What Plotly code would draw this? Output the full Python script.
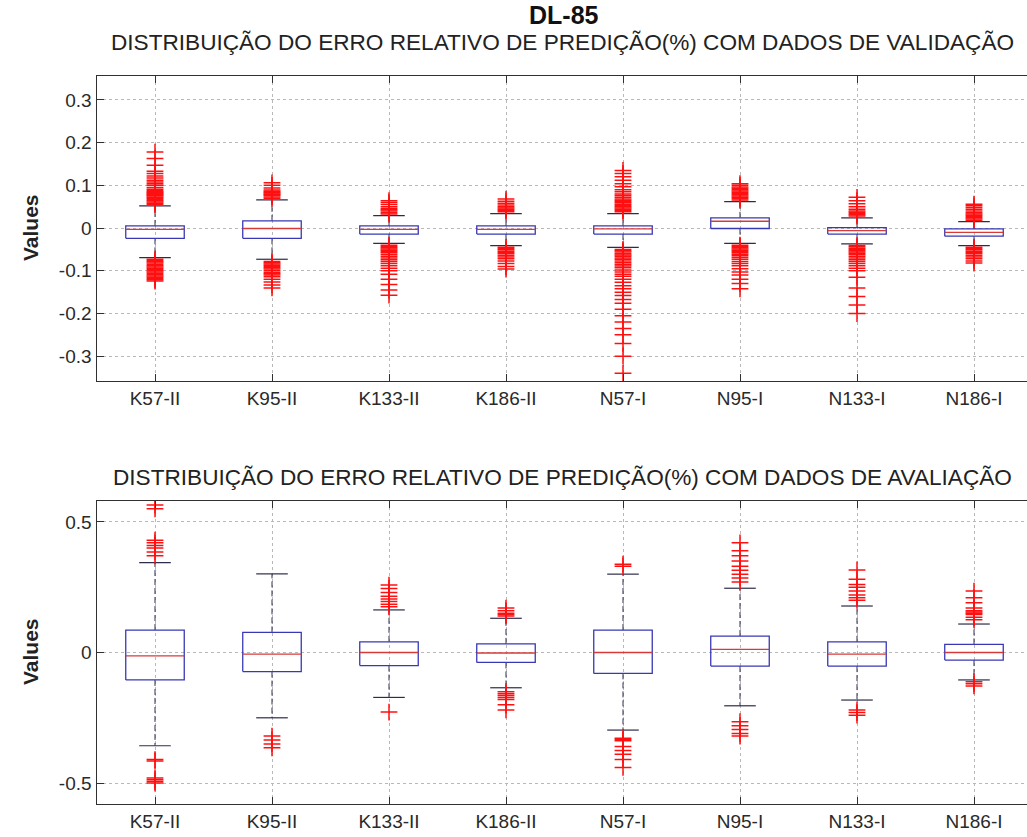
import plotly.graph_objects as go
from plotly.subplots import make_subplots

# Model labels (x axis)
categories = ["K57-II", "K95-II", "K133-II", "K186-II", "N57-I", "N95-I", "N133-I", "N186-I"]

# ---- Validation data: box statistics ----
val_q1 = [-0.024, -0.024, -0.014, -0.014, -0.014, -0.001, -0.014, -0.019]
val_median = [-0.003, -0.001, -0.003, -0.003, -0.002, 0.016, -0.006, -0.010]
val_q3 = [0.005, 0.017, 0.005, 0.005, 0.005, 0.024, 0.001, -0.002]
val_lower = [-0.069, -0.073, -0.036, -0.041, -0.045, -0.036, -0.037, -0.041]
val_upper = [0.052, 0.066, 0.029, 0.034, 0.034, 0.062, 0.024, 0.015]

# ---- Validation data: outliers ----
val_outliers = [
    [0.055, 0.058, 0.061, 0.064, 0.067, 0.070, 0.072, 0.075, 0.077, 0.079, 0.081, 0.083, 0.085,
     0.088, 0.091, 0.095, 0.100, 0.104, 0.108, 0.112, 0.117, 0.122, 0.128, 0.133, 0.147, 0.163, 0.178,
     -0.073, -0.076, -0.079, -0.082, -0.085, -0.088, -0.091, -0.094, -0.097, -0.100, -0.103, -0.106,
     -0.109, -0.112, -0.115, -0.118, -0.121, -0.124],
    [0.070, 0.073, 0.076, 0.078, 0.080, 0.082, 0.084, 0.086, 0.089, 0.094, 0.100, 0.106,
     -0.078, -0.081, -0.084, -0.087, -0.090, -0.093, -0.096, -0.100, -0.104, -0.107, -0.110, -0.114,
     -0.120, -0.126, -0.133, -0.140],
    [0.033, 0.036, 0.040, 0.043, 0.046, 0.050, 0.055, 0.060, 0.064,
     -0.040, -0.043, -0.046, -0.049, -0.052, -0.055, -0.058, -0.062, -0.066, -0.070, -0.074, -0.078,
     -0.083, -0.088, -0.094, -0.100, -0.108, -0.120, -0.132, -0.145, -0.157],
    [0.038, 0.041, 0.044, 0.047, 0.050, 0.054, 0.058, 0.063, 0.068,
     -0.045, -0.048, -0.051, -0.054, -0.057, -0.060, -0.064, -0.068, -0.072, -0.077, -0.083, -0.090, -0.096],
    [0.038, 0.041, 0.044, 0.047, 0.050, 0.053, 0.056, 0.059, 0.062, 0.065, 0.068, 0.072, 0.076, 0.080,
     0.085, 0.090, 0.097, 0.104, 0.112, 0.120, 0.128, 0.135,
     -0.050, -0.053, -0.056, -0.060, -0.063, -0.066, -0.070, -0.073, -0.077, -0.081, -0.085, -0.089,
     -0.093, -0.098, -0.103, -0.108, -0.113, -0.120, -0.127, -0.135, -0.142, -0.150, -0.158, -0.167,
     -0.176, -0.190, -0.205, -0.220, -0.235, -0.250, -0.270, -0.300, -0.340],
    [0.066, 0.069, 0.072, 0.075, 0.078, 0.081, 0.084, 0.087, 0.090, 0.093, 0.096, 0.100, 0.104,
     -0.040, -0.043, -0.046, -0.049, -0.052, -0.055, -0.058, -0.061, -0.065, -0.069, -0.073, -0.078,
     -0.083, -0.088, -0.095, -0.103, -0.110, -0.120, -0.130, -0.142],
    [0.028, 0.031, 0.034, 0.037, 0.040, 0.044, 0.050, 0.057, 0.064, 0.072,
     -0.041, -0.044, -0.047, -0.050, -0.053, -0.056, -0.059, -0.062, -0.066, -0.070, -0.074, -0.078,
     -0.083, -0.088, -0.094, -0.100, -0.115, -0.140, -0.160, -0.180, -0.200],
    [0.018, 0.021, 0.024, 0.027, 0.030, 0.033, 0.036, 0.040, 0.044, 0.048, 0.052, 0.056,
     -0.045, -0.048, -0.051, -0.054, -0.057, -0.060, -0.064, -0.068, -0.072, -0.077, -0.082],
]

# ---- Evaluation data: box statistics ----
ava_q1 = [-0.105, -0.073, -0.050, -0.038, -0.080, -0.052, -0.052, -0.029]
ava_median = [-0.013, -0.006, 0.000, -0.002, 0.000, 0.012, -0.006, 0.000]
ava_q3 = [0.086, 0.077, 0.041, 0.033, 0.086, 0.063, 0.041, 0.031]
ava_lower = [-0.357, -0.250, -0.172, -0.135, -0.297, -0.204, -0.182, -0.105]
ava_upper = [0.344, 0.301, 0.163, 0.131, 0.300, 0.246, 0.178, 0.109]

# ---- Evaluation data: outliers ----
ava_outliers = [
    [0.370, 0.385, 0.400, 0.410, 0.420, 0.430, 0.550, 0.565,
     -0.410, -0.415, -0.480, -0.487, -0.494, -0.500],
    [-0.320, -0.335, -0.350, -0.365],
    [0.175, 0.185, 0.195, 0.205, 0.215, 0.230, 0.245, 0.258, -0.228],
    [0.140, 0.145, 0.150, 0.160, 0.170,
     -0.150, -0.158, -0.165, -0.172, -0.180, -0.200, -0.220],
    [0.330, 0.338,
     -0.328, -0.333, -0.338, -0.360, -0.375, -0.390, -0.410, -0.440],
    [0.270, 0.285, 0.300, 0.315, 0.330, 0.350, 0.370, 0.390, 0.420,
     -0.265, -0.280, -0.295, -0.310, -0.320],
    [0.200, 0.210, 0.220, 0.235, 0.250, 0.260, 0.280, 0.316,
     -0.220, -0.230, -0.240],
    [0.125, 0.135, 0.145, 0.150, 0.155, 0.160, 0.170, 0.190, 0.210, 0.235,
     -0.112, -0.120, -0.128],
]

# Tick labels
val_tickvals = [-0.3, -0.2, -0.1, 0, 0.1, 0.2, 0.3]
val_ticktext = ["-0.3", "-0.2", "-0.1", "0", "0.1", "0.2", "0.3"]
ava_tickvals = [-0.5, 0, 0.5]
ava_ticktext = ["-0.5", "0", "0.5"]

main_title = "DL-85"
val_title = "DISTRIBUIÇÃO DO ERRO RELATIVO DE PREDIÇÃO(%) COM DADOS DE VALIDAÇÃO"
ava_title = "DISTRIBUIÇÃO DO ERRO RELATIVO DE PREDIÇÃO(%) COM DADOS DE AVALIAÇÃO"
y_label = "Values"

BOX_HALF = 0.25
CAP_HALF = 0.135
BOX_COLOR = "#3838b4"
MEDIAN_COLOR = "#d83a3a"
WHISKER_COLOR = "#2c2c4c"
OUTLIER_COLOR = "#ff1010"
FONT = "Liberation Sans, Arial, sans-serif"

fig = make_subplots(rows=2, cols=1)


def add_boxplot(row, q1, med, q3, lo, hi, outliers):
    pos = list(range(1, len(categories) + 1))
    bx, by, mx, my, wx, wy, cx, cy = [], [], [], [], [], [], [], []
    for p, a, m, b, l, h in zip(pos, q1, med, q3, lo, hi):
        bx += [p - BOX_HALF, p + BOX_HALF, p + BOX_HALF, p - BOX_HALF, p - BOX_HALF, None]
        by += [a, a, b, b, a, None]
        mx += [p - BOX_HALF, p + BOX_HALF, None]
        my += [m, m, None]
        wx += [p, p, None, p, p, None]
        wy += [b, h, None, a, l, None]
        cx += [p - CAP_HALF, p + CAP_HALF, None, p - CAP_HALF, p + CAP_HALF, None]
        cy += [h, h, None, l, l, None]
    ox, oy = [], []
    for p, vals in zip(pos, outliers):
        ox += [p] * len(vals)
        oy += vals
    fig.add_trace(go.Scatter(x=wx, y=wy, mode="lines", line=dict(color=WHISKER_COLOR, width=1, dash="6px,3px"),
                             hoverinfo="skip", showlegend=False), row=row, col=1)
    fig.add_trace(go.Scatter(x=cx, y=cy, mode="lines", line=dict(color=WHISKER_COLOR, width=1.2),
                             hoverinfo="skip", showlegend=False), row=row, col=1)
    fig.add_trace(go.Scatter(x=ox, y=oy, mode="markers",
                             marker=dict(symbol="cross-thin", size=12, line=dict(color=OUTLIER_COLOR, width=1.5)),
                             showlegend=False), row=row, col=1)
    fig.add_trace(go.Scatter(x=bx, y=by, mode="lines", line=dict(color=BOX_COLOR, width=1.3),
                             hoverinfo="skip", showlegend=False), row=row, col=1)
    fig.add_trace(go.Scatter(x=mx, y=my, mode="lines", line=dict(color=MEDIAN_COLOR, width=1.3),
                             hoverinfo="skip", showlegend=False), row=row, col=1)


add_boxplot(1, val_q1, val_median, val_q3, val_lower, val_upper, val_outliers)
add_boxplot(2, ava_q1, ava_median, ava_q3, ava_lower, ava_upper, ava_outliers)

W, H = 1027, 837
x_left = 96.5 / W

axis_common = dict(
    showline=True, linecolor="#303030", linewidth=1.2,
    showgrid=True, gridcolor="#b8b8b8", gridwidth=1, griddash="dot",
    ticks="inside", ticklen=7, tickcolor="#303030",
    zeroline=False,
    tickfont=dict(family=FONT, size=19, color="#2a2a2a"),
)

for r in (1, 2):
    fig.update_xaxes(axis_common, row=r, col=1)
    fig.update_xaxes(range=[0.5, 8.453], tickmode="array",
                     tickvals=list(range(1, len(categories) + 1)), ticktext=categories,
                     mirror="allticks", domain=[x_left, 1.0], row=r, col=1)
    fig.update_yaxes(axis_common, row=r, col=1)

fig.update_yaxes(range=[-0.358, 0.356], tickmode="array", tickvals=val_tickvals, ticktext=val_ticktext,
                 domain=[1 - 381 / H, 1 - 76 / H], mirror=False, row=1, col=1)
fig.update_yaxes(range=[-0.58, 0.58], tickmode="array", tickvals=ava_tickvals, ticktext=ava_ticktext,
                 domain=[1 - 804 / H, 1 - 501 / H], mirror=False, row=2, col=1)

cx_title = (96.5 + 1032) / 2 / W
cx_sub = 562 / W
annotations = [
    dict(text="<b>" + main_title + "</b>", x=cx_title, y=1.0, xref="paper", yref="paper",
         showarrow=False, font=dict(family=FONT, size=25, color="#111111"), xanchor="center", yanchor="top",
         borderpad=0),
    dict(text=val_title, x=cx_sub, y=1 - 43 / H, xref="paper", yref="paper",
         showarrow=False, font=dict(family=FONT, size=22.6, color="#222222"), xanchor="center", yanchor="middle",
         borderpad=0),
    dict(text=ava_title, x=cx_sub, y=1 - 477 / H, xref="paper", yref="paper",
         showarrow=False, font=dict(family=FONT, size=22.6, color="#222222"), xanchor="center", yanchor="middle"),
    dict(text="<b>" + y_label + "</b>", x=30 / W, y=1 - 228 / H, xref="paper", yref="paper", textangle=-90,
         showarrow=False, font=dict(family=FONT, size=21, color="#222222"), xanchor="center", yanchor="middle"),
    dict(text="<b>" + y_label + "</b>", x=30 / W, y=1 - 652 / H, xref="paper", yref="paper", textangle=-90,
         showarrow=False, font=dict(family=FONT, size=21, color="#222222"), xanchor="center", yanchor="middle"),
]

fig.update_layout(
    width=W, height=H,
    margin=dict(l=0, r=0, t=0, b=0),
    paper_bgcolor="white", plot_bgcolor="white",
    annotations=annotations,
    showlegend=False,
)

fig.write_html("out.html")
